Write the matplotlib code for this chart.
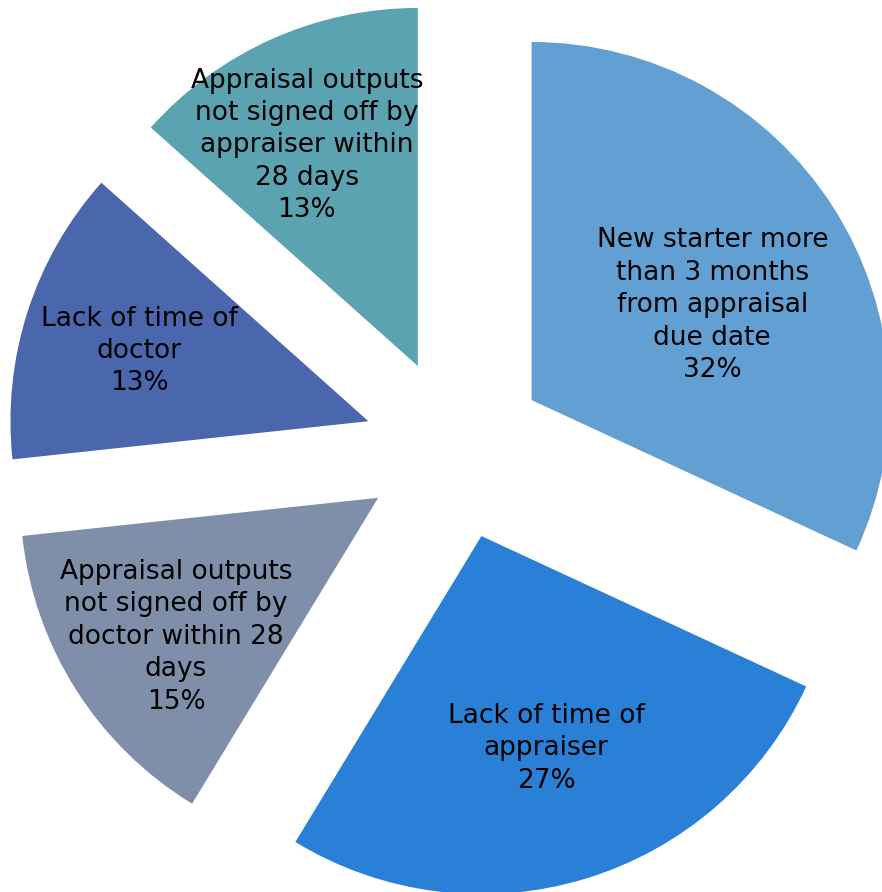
import matplotlib.pyplot as plt
import numpy as np

# data
categories = [
    "New starter more\nthan 3 months\nfrom appraisal\ndue date",
    "Lack of time of\nappraiser",
    "Appraisal outputs\nnot signed off by\ndoctor within 28\ndays",
    "Lack of time of\ndoctor",
    "Appraisal outputs\nnot signed off by\nappraiser within\n28 days",
]
values = [31.9, 26.8, 14.6, 13.3, 13.4]
colors = ["#629FD2", "#2A7FD6", "#7F8FA9", "#4A66AC", "#5BA3B0"]

# label placement from each wedge apex: distance (fraction of radius), angle tweak (deg)
label_r = [0.57, 0.62, 0.685, 0.67, 0.69]
label_dt = [-4.9, 0.0, 2.1, 0.8, 2.6]

fig = plt.figure(figsize=(8.82, 8.92), dpi=100)
ax = fig.add_axes([0, 0, 1, 1])

wedges, _ = ax.pie(values, colors=colors, startangle=90, counterclock=False,
                   explode=[0.254] * len(values), radius=1,
                   wedgeprops=dict(linewidth=0))

total = sum(values)
for w, cat, v, r, dt in zip(wedges, categories, values, label_r, label_dt):
    mid = np.deg2rad((w.theta1 + w.theta2) / 2 + dt)
    cx, cy = w.center
    ax.text(cx + r * np.cos(mid), cy + r * np.sin(mid),
            f"{cat}\n{round(v / total * 100):.0f}%",
            ha="center", va="center", fontsize=19, color="black",
            linespacing=1.32)

ax.set_aspect("auto")
ax.set_xlim(-1.271, 1.193)
ax.set_ylim(-1.237, 1.254)
ax.axis("off")

fig.savefig("out.png", dpi=100)
